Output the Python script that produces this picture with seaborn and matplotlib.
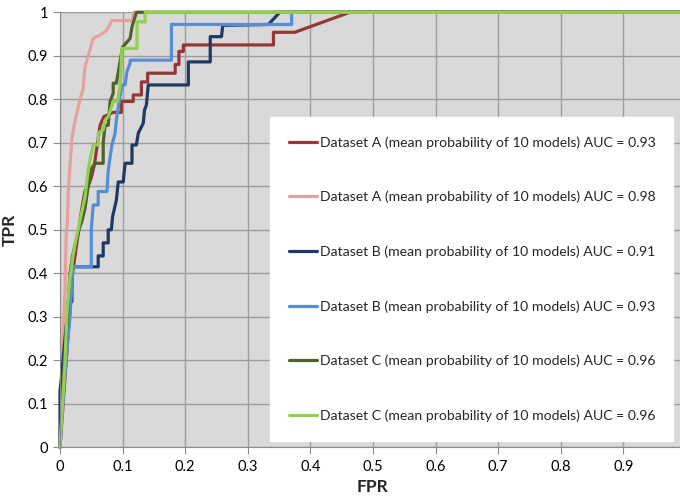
import matplotlib
matplotlib.use('Agg')
import matplotlib.pyplot as plt
import seaborn as sns
import pandas as pd

# ROC curve vertices (FPR, TPR)
a1_fpr = [0, 0.005, 0.01, 0.015, 0.02, 0.025, 0.03, 0.035, 0.04, 0.045, 0.05, 0.055,
          0.06, 0.064, 0.07, 0.085, 0.098, 0.098, 0.117, 0.117, 0.13, 0.13, 0.14, 0.14,
          0.184, 0.184, 0.19, 0.19, 0.197, 0.197, 0.341, 0.341, 0.375, 0.463, 1.0]
a1_tpr = [0, 0.1, 0.2, 0.3, 0.4, 0.45, 0.5, 0.55, 0.59, 0.6, 0.62, 0.65,
          0.7, 0.74, 0.76, 0.77, 0.77, 0.795, 0.795, 0.81, 0.81, 0.84, 0.84, 0.86,
          0.86, 0.88, 0.88, 0.91, 0.91, 0.925, 0.925, 0.954, 0.954, 1.0, 1.0]

a2_fpr = [0, 0.003, 0.005, 0.008, 0.01, 0.012, 0.013, 0.016, 0.019, 0.024, 0.032,
          0.037, 0.04, 0.045, 0.053, 0.067, 0.075, 0.083, 0.115, 0.118, 1.0]
a2_tpr = [0, 0.17, 0.26, 0.36, 0.49, 0.52, 0.58, 0.65, 0.71, 0.75, 0.8,
          0.825, 0.875, 0.9, 0.94, 0.95, 0.96, 0.981, 0.981, 1.0, 1.0]

b1_fpr = [0, 0, 0.003, 0.006, 0.01, 0.015, 0.019, 0.019, 0.021, 0.061, 0.061, 0.069,
          0.069, 0.077, 0.077, 0.082, 0.084, 0.09, 0.093, 0.101, 0.104, 0.115, 0.115,
          0.122, 0.125, 0.133, 0.135, 0.138, 0.141, 0.144, 0.205, 0.205, 0.24, 0.24,
          0.258, 0.26, 0.333, 0.351, 1.0]
b1_tpr = [0, 0.13, 0.17, 0.22, 0.28, 0.33, 0.335, 0.4, 0.415, 0.415, 0.44, 0.44,
          0.47, 0.47, 0.5, 0.5, 0.53, 0.568, 0.61, 0.61, 0.653, 0.653, 0.695,
          0.695, 0.722, 0.745, 0.775, 0.787, 0.833, 0.833, 0.833, 0.886, 0.886, 0.944,
          0.944, 0.97, 0.972, 1.0, 1.0]

b2_fpr = [0, 0.004, 0.008, 0.012, 0.016, 0.019, 0.021, 0.05, 0.05, 0.053, 0.061, 0.061,
          0.075, 0.077, 0.083, 0.088, 0.09, 0.094, 0.099, 0.104, 0.107, 0.112, 0.112,
          0.178, 0.178, 0.37, 0.37, 1.0]
b2_tpr = [0, 0.09, 0.17, 0.24, 0.3, 0.377, 0.415, 0.415, 0.5, 0.557, 0.557, 0.588,
          0.588, 0.637, 0.695, 0.722, 0.752, 0.79, 0.833, 0.833, 0.864, 0.883, 0.89,
          0.89, 0.972, 0.972, 1.0, 1.0]

c1_fpr = [0, 0.004, 0.008, 0.012, 0.016, 0.02, 0.025, 0.03, 0.035, 0.04, 0.045, 0.05,
          0.056, 0.069, 0.069, 0.072, 0.077, 0.08, 0.085, 0.085, 0.09, 0.1, 0.112,
          0.115, 0.12, 0.122, 1.0]
c1_tpr = [0, 0.12, 0.22, 0.3, 0.4, 0.44, 0.47, 0.5, 0.52, 0.55, 0.6, 0.64,
          0.653, 0.653, 0.7, 0.74, 0.74, 0.795, 0.814, 0.837, 0.837, 0.92, 0.94,
          0.967, 0.99, 1.0, 1.0]

c2_fpr = [0, 0.008, 0.011, 0.016, 0.021, 0.027, 0.032, 0.04, 0.045, 0.05, 0.053, 0.061,
          0.061, 0.069, 0.072, 0.077, 0.085, 0.092, 0.096, 0.099, 0.123, 0.123, 0.136,
          0.136, 1.0]
c2_tpr = [0, 0.197, 0.304, 0.389, 0.442, 0.488, 0.522, 0.576, 0.637, 0.676, 0.695, 0.695,
          0.722, 0.73, 0.752, 0.76, 0.795, 0.795, 0.833, 0.917, 0.917, 0.978, 0.978,
          1.0, 1.0]

labels = ['Dataset A (mean probability of 10 models) AUC = 0.93',
          'Dataset A (mean probability of 10 models) AUC = 0.98',
          'Dataset B (mean probability of 10 models) AUC = 0.91',
          'Dataset B (mean probability of 10 models) AUC = 0.93',
          'Dataset C (mean probability of 10 models) AUC = 0.96',
          'Dataset C (mean probability of 10 models) AUC = 0.96']
colors = ['#953735', '#e6a19d', '#1f3864', '#558ed5', '#4f6228', '#92d050']

x_ticks = [0, 0.1, 0.2, 0.3, 0.4, 0.5, 0.6, 0.7, 0.8, 0.9, 1.0]
tick_labels = ['0', '0.1', '0.2', '0.3', '0.4', '0.5', '0.6', '0.7', '0.8', '0.9', '1']

curves = [(a1_fpr, a1_tpr), (a2_fpr, a2_tpr), (b1_fpr, b1_tpr),
          (b2_fpr, b2_tpr), (c1_fpr, c1_tpr), (c2_fpr, c2_tpr)]

sns.set_style('white')
plt.rcParams['font.family'] = ['Lato', 'DejaVu Sans']

fig = plt.figure(figsize=(6.8, 4.98), dpi=100)
ax = fig.add_axes([60 / 680, (498 - 447.3) / 498, 626 / 680, 435 / 498])
ax.set_facecolor('#d9d9d9')

for (fx, ty), lab, col in zip(curves, labels, colors):
    df = pd.DataFrame({'FPR': fx, 'TPR': ty})
    sns.lineplot(data=df, x='FPR', y='TPR', ax=ax, sort=False, estimator=None,
                 color=col, linewidth=2.3, label=lab, clip_on=False)

ax.set_xlim(0, 1)
ax.set_ylim(0, 1)
ax.set_xticks(x_ticks)
ax.set_xticklabels(tick_labels)
ax.set_yticks(x_ticks)
ax.set_yticklabels(tick_labels)
ax.grid(True, color='#9c9c9c', linewidth=1)
ax.set_axisbelow(True)
for s in ['top', 'right']:
    ax.spines[s].set_visible(False)
for s in ['left', 'bottom']:
    ax.spines[s].set_color('#8c8c8c')
ax.tick_params(axis='both', length=5, color='#8c8c8c', labelsize=10.5,
               labelcolor='black', direction='out', left=True, bottom=True)
ax.tick_params(axis='x', pad=4.5)
ax.set_xlabel('FPR', fontsize=12.5, fontweight='bold', labelpad=3)
ax.set_ylabel('TPR', fontsize=12.5, fontweight='bold', labelpad=7)

leg = ax.legend(loc='upper left', bbox_to_anchor=(0.335, 0.759, 0.644, 0.0),
                mode='expand', borderaxespad=0, frameon=True, fancybox=False,
                fontsize=10.1, labelspacing=3.0, handlelength=2.0,
                handletextpad=0.2, borderpad=1.35)
leg.get_frame().set_facecolor('white')
leg.get_frame().set_edgecolor('white')
leg.get_frame().set_alpha(1)

fig.savefig('out.png', dpi=100)
